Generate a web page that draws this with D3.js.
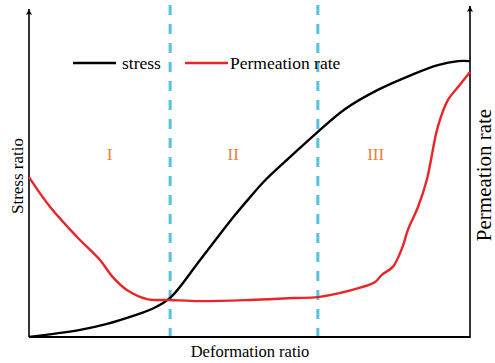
<!DOCTYPE html>
<html>
<head>
<meta charset="utf-8">
<script src="https://cdn.jsdelivr.net/npm/d3@7"></script>
<style>
  html, body { margin: 0; padding: 0; background: #fff; }
  svg { display: block; }
</style>
</head>
<body>
<svg id="chart" width="495" height="363"></svg>
<script>
// Deformation ratio (0..1) sampled along each curve
const stressX = [0, 0.116, 0.177, 0.236, 0.281, 0.32, 0.388, 0.463, 0.501, 0.535, 0.596, 0.655, 0.717, 0.791, 0.868, 0.927, 0.973, 1.0];
const stressY = [0, 0.025, 0.046, 0.074, 0.10, 0.137, 0.27, 0.42, 0.49, 0.549, 0.637, 0.72, 0.80, 0.867, 0.92, 0.954, 0.968, 0.968];

const permX = [0, 0.048, 0.109, 0.161, 0.19, 0.222, 0.268, 0.32, 0.388, 0.501, 0.603, 0.655, 0.755, 0.785, 0.80, 0.825, 0.846, 0.859, 0.882, 0.902, 0.927, 0.95, 0.973, 1.0];
const permY = [0.561, 0.456, 0.351, 0.27, 0.21, 0.165, 0.133, 0.13, 0.126, 0.13, 0.137, 0.14, 0.175, 0.193, 0.218, 0.246, 0.312, 0.375, 0.456, 0.551, 0.737, 0.832, 0.877, 0.93];

// Stage boundaries on the deformation axis
const stageBounds = [0.32, 0.655];
const stageLabels = ["I", "II", "III"];
const stageLabelX = [0.183, 0.463, 0.786];

const legendNames = ["stress", "Permeation rate"];
const legendColors = ["#000000", "#e8262a"];

const serif = '"Liberation Serif", "Times New Roman", Times, "DejaVu Serif", serif';

const svg = d3.select("#chart").attr("font-family", serif);
const plotLeft = 29, plotRight = 470, plotBottom = 337, plotTop = 52;

const x = d3.scaleLinear().domain([0, 1]).range([plotLeft, plotRight]);
const y = d3.scaleLinear().domain([0, 1]).range([plotBottom, plotTop]);

// arrow marker
svg.append("defs").append("marker")
  .attr("id", "arrow").attr("viewBox", "0 0 10 10")
  .attr("refX", 5).attr("refY", 0)
  .attr("markerWidth", 6).attr("markerHeight", 10)
  .attr("markerUnits", "userSpaceOnUse")
  .attr("orient", "0")
  .append("path").attr("d", "M5,0 L10,10 L5,8 L0,10 Z").attr("fill", "#000");

// stage divider lines
svg.selectAll(".divider").data(stageBounds).join("line")
  .attr("class", "divider")
  .attr("x1", d => x(d)).attr("x2", d => x(d))
  .attr("y1", 5).attr("y2", plotBottom)
  .attr("stroke", "#55c3dc").attr("stroke-width", 3)
  .attr("stroke-dasharray", "10,9");

// axes
svg.append("line").attr("x1", plotLeft).attr("x2", plotLeft).attr("y1", plotBottom).attr("y2", 9)
  .attr("stroke", "#000").attr("stroke-width", 1.6).attr("marker-end", "url(#arrow)");
svg.append("line").attr("x1", plotRight).attr("x2", plotRight).attr("y1", plotBottom + 1).attr("y2", 6)
  .attr("stroke", "#000").attr("stroke-width", 1.6).attr("marker-end", "url(#arrow)");
svg.append("line").attr("x1", plotLeft).attr("x2", plotRight).attr("y1", plotBottom).attr("y2", plotBottom)
  .attr("stroke", "#000").attr("stroke-width", 1.8);

const line = d3.line().curve(d3.curveCatmullRom.alpha(0.5));

svg.append("path")
  .attr("d", line(stressX.map((d, i) => [x(d), y(stressY[i])])))
  .attr("fill", "none").attr("stroke", "#000").attr("stroke-width", 2.4);

svg.append("path")
  .attr("d", line(permX.map((d, i) => [x(d), y(permY[i])])))
  .attr("fill", "none").attr("stroke", "#e8262a").attr("stroke-width", 2.4);

// stage labels
svg.selectAll(".stage").data(stageLabels).join("text")
  .attr("class", "stage")
  .attr("x", (d, i) => x(stageLabelX[i])).attr("y", 160)
  .attr("text-anchor", "middle")
  .attr("font-size", 17).attr("fill", "#e5843a")
  .text(d => d);

// legend
const legendX = [73, 185];
const legendTextX = [122, 230];
legendNames.forEach((name, i) => {
  svg.append("line").attr("x1", legendX[i]).attr("x2", legendX[i] + 43)
    .attr("y1", 63).attr("y2", 63)
    .attr("stroke", legendColors[i]).attr("stroke-width", 2.4);
  svg.append("text").attr("x", legendTextX[i]).attr("y", 69)
    .attr("font-size", 17.5).attr("fill", "#000").text(name);
});

// axis titles
svg.append("text").attr("x", 250).attr("y", 357).attr("text-anchor", "middle")
  .attr("font-size", 16.5).text("Deformation ratio");
svg.append("text").attr("transform", "translate(23,176) rotate(-90)")
  .attr("text-anchor", "middle").attr("font-size", 17).text("Stress ratio");
svg.append("text").attr("transform", "translate(491,175) rotate(-90)")
  .attr("text-anchor", "middle").attr("font-size", 21).text("Permeation rate");
</script>
</body>
</html>
